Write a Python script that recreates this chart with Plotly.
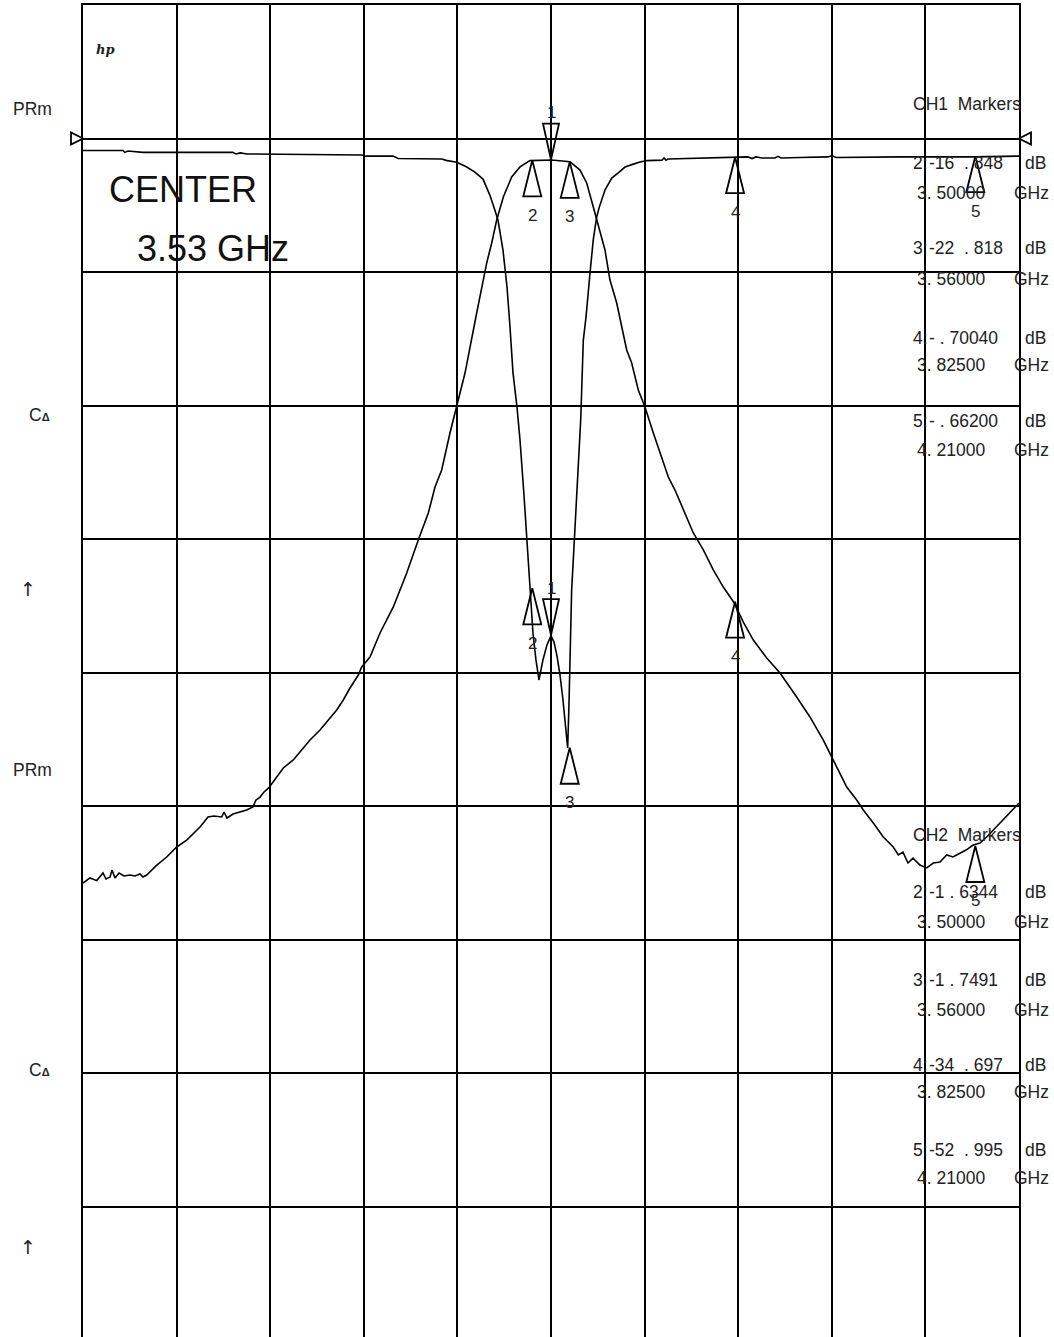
import plotly.graph_objects as go

# ---------------- data ----------------
# sweep: 2.78 .. 4.28 GHz (center 3.53 GHz, 150 MHz / div)
start_ghz = 2.78
stop_ghz = 4.28
center_ghz = 3.53
freq_per_div = 0.15

# CH1 : 5 dB/div, reference 0 dB
ch1_ref_db = 0.0
ch1_db_per_div = 5.0
# CH2 : 10 dB/div, reference 0 dB
ch2_ref_db = 0.0
ch2_db_per_div = 10.0

ch1_freq = [2.78, 2.844, 2.847, 2.852, 2.876, 3.020, 3.025, 3.032, 3.043, 3.176, 3.227, 3.232,
            3.277, 3.285, 3.355, 3.362, 3.379, 3.395, 3.408, 3.421, 3.432, 3.440, 3.445, 3.453,
            3.4595, 3.4643, 3.4691, 3.4755, 3.4803, 3.4867, 3.4911, 3.4963, 3.5011, 3.5059, 3.5107,
            3.5171, 3.5235, 3.530, 3.5348, 3.5396, 3.5444, 3.5492, 3.5532, 3.5567, 3.5588, 3.5612,
            3.5631, 3.5657, 3.5712, 3.5776, 3.5818, 3.5861, 3.5925, 3.5978, 3.6032, 3.6074, 3.6165,
            3.6273, 3.6378, 3.6486, 3.6619, 3.6726, 3.6833, 3.7079, 3.7111, 3.7143, 3.7175, 3.8249,
            3.8458, 3.8522, 3.8585, 3.8681, 3.8890, 3.8938, 3.8986, 3.9290, 3.9739, 3.9803, 3.9867,
            4.0893, 4.2095, 4.28]
ch1_db = [-0.45, -0.45, -0.52, -0.47, -0.52, -0.52, -0.58, -0.54, -0.58, -0.62, -0.62, -0.66,
          -0.66, -0.75, -0.77, -0.82, -0.89, -1.07, -1.26, -1.52, -2.12, -2.68, -3.05, -4.17,
          -5.56, -7.06, -8.78, -10.06, -11.29, -13.35, -14.96, -16.84, -18.52, -19.53, -20.28,
          -19.53, -18.97, -18.63, -18.86, -19.38, -20.09, -21.03, -21.97, -22.83, -21.22, -18.78,
          -16.91, -15.79, -13.54, -10.54, -7.55, -6.69, -5.04, -3.78, -2.94, -2.57, -1.93,
          -1.48, -1.29, -1.07, -0.96, -0.88, -0.83, -0.81, -0.73, -0.81, -0.77, -0.71,
          -0.69, -0.75, -0.69, -0.73, -0.73, -0.67, -0.73, -0.71, -0.69, -0.64, -0.71,
          -0.69, -0.69, -0.66]

ch2_freq = [2.78, 2.7859, 2.7912, 2.802, 2.8121, 2.8169, 2.8233, 2.8265, 2.8313, 2.8377, 2.8457,
            2.8553, 2.8633, 2.8713, 2.8762, 2.8821, 2.897, 2.9141, 2.9302, 2.9462, 2.9563, 2.9675,
            2.974, 2.9803, 2.9899, 3.0023, 3.006, 3.0108, 3.0204, 3.0316, 3.0423, 3.0524, 3.0572,
            3.0637, 3.0701, 3.0776, 3.0904, 3.101, 3.117, 3.1278, 3.1438, 3.1598, 3.1758, 3.1866,
            3.1971, 3.2079, 3.2212, 3.2266, 3.2399, 3.256, 3.2773, 3.2988, 3.3173, 3.3334, 3.3441,
            3.3548, 3.3681, 3.3789, 3.3922, 3.4109, 3.4269, 3.435, 3.443, 3.4536, 3.467, 3.4803,
            3.4963, 3.5311, 3.5604, 3.5765, 3.5872, 3.5978, 3.6085, 3.6165, 3.6245, 3.6353, 3.6513,
            3.6593, 3.6699, 3.6806, 3.694, 3.6994, 3.718, 3.7287, 3.742, 3.7581, 3.7741, 3.7901,
            3.8061, 3.8237, 3.8382, 3.8542, 3.8757, 3.897, 3.9237, 3.945, 3.9664, 3.9824, 4.0039,
            4.0199, 4.0305, 4.0465, 4.0625, 4.0785, 4.0866, 4.0941, 4.1021, 4.1101, 4.1213, 4.1321,
            4.1427, 4.1534, 4.1641, 4.1742, 4.1854, 4.1951, 4.2067, 4.2175, 4.2282, 4.2388, 4.2495,
            4.2603, 4.2708, 4.28]
ch2_db = [-55.77, -55.54, -55.39, -55.59, -55.02, -55.47, -55.32, -54.79, -55.39, -55.02, -55.24,
          -55.17, -55.24, -55.09, -55.32, -55.17, -54.49, -53.82, -53.07, -52.55, -52.10, -51.57,
          -51.20, -50.82, -50.75, -50.82, -50.45, -50.90, -50.60, -50.45, -50.30, -50.07, -49.55,
          -49.33, -48.95, -48.65, -47.83, -47.15, -46.55, -45.96, -45.06, -44.31, -43.41, -42.81,
          -42.06, -41.16, -40.19, -39.59, -38.84, -37.04, -35.09, -32.55, -30.08, -28.05, -26.10,
          -24.83, -22.06, -20.11, -17.57, -13.07, -9.33, -7.83, -6.11, -4.38, -2.88, -2.13,
          -1.66, -1.61, -1.74, -2.36, -3.33, -5.13, -7.08, -8.35, -10.60, -12.32, -15.84,
          -16.82, -18.84, -20.11, -22.06, -22.81, -25.36, -26.33, -27.83, -29.55, -30.82, -32.32,
          -33.60, -34.79, -36.22, -37.57, -38.91, -40.04, -41.84, -43.33, -45.06, -46.55, -48.58,
          -49.55, -50.30, -51.27, -52.32, -53.07, -53.67, -53.45, -54.27, -53.90, -54.42, -54.64,
          -54.27, -54.19, -53.67, -53.82, -53.52, -53.30, -52.92, -52.77, -52.32, -51.80, -51.27,
          -50.82, -50.30, -49.78]

marker_ids = ["1", "2", "3", "4", "5"]
marker_freq = [3.53, 3.50, 3.56, 3.825, 4.21]
ch1_marker_db = [-18.6, -16.848, -22.818, -0.7004, -0.662]
ch2_marker_db = [-1.58, -1.6344, -1.7491, -34.697, -52.995]

# marker readouts as printed by the analyzer
readout_ids = ["2:", "3:", "4:", "5:"]
ch1_readout_db = ["-16\u00a0\u00a0.\u00a0848", "-22\u00a0\u00a0.\u00a0818", "-\u00a0.\u00a070040", "-\u00a0.\u00a066200"]
ch2_readout_db = ["-1\u00a0.\u00a06344", "-1\u00a0.\u00a07491", "-34\u00a0\u00a0.\u00a0697", "-52\u00a0\u00a0.\u00a0995"]
readout_freq = ["3.\u00a050000", "3.\u00a056000", "3.\u00a082500", "4.\u00a021000"]

center_text = ["CENTER", "3.53 GHz"]

# ---------------- layout helpers ----------------
W, H = 1054, 1337
L, R, T, B = 83, 35, 5, 0
PW, PH = W - L - R, H - T - B
px_per_div_y = 133.5


def px(xp):
    return (xp - L) / PW


def py(yp):
    return 1 - (yp - T) / PH


ch1_top = ch1_ref_db + ch1_db_per_div
ch1_bottom = ch1_top - PH / px_per_div_y * ch1_db_per_div
ch2_top = ch2_ref_db + ch2_db_per_div
ch2_bottom = ch2_top - PH / px_per_div_y * ch2_db_per_div

FONT = "Liberation Sans, Arial, sans-serif"
INK = "black"

fig = go.Figure()
fig.add_trace(go.Scatter(x=ch1_freq, y=ch1_db, mode="lines", yaxis="y",
                         line=dict(color=INK, width=1.6), hoverinfo="skip", showlegend=False))
fig.add_trace(go.Scatter(x=ch2_freq, y=ch2_db, mode="lines", yaxis="y2",
                         line=dict(color=INK, width=1.6), hoverinfo="skip", showlegend=False))

shapes = []
annotations = []

UP = "M0,0 L-9,-36 L9,-36 Z"
DOWN = "M0,0 L-8,36 L8,36 Z"
for yref, vals in (("y", ch1_marker_db), ("y2", ch2_marker_db)):
    for mid, f, v in zip(marker_ids, marker_freq, vals):
        first = mid == "1"
        shapes.append(dict(type="path", xref="x", yref=yref, xsizemode="pixel", ysizemode="pixel",
                           xanchor=f, yanchor=v, path=DOWN if first else UP,
                           line=dict(color=INK, width=1.8), fillcolor="rgba(0,0,0,0)", layer="above"))
        annotations.append(dict(x=f, y=v, xref="x", yref=yref, text=mid, showarrow=False,
                                yshift=47 if first else -55, font=dict(family=FONT, size=17, color="#222")))

# reference-line pointers
ref_y = py(138.5)
shapes.append(dict(type="path", xref="paper", yref="paper", xsizemode="pixel", ysizemode="pixel",
                   xanchor=0, yanchor=ref_y, path="M0,0 L-12,6 L-12,-6 Z",
                   line=dict(color=INK, width=1.8), fillcolor="white"))
shapes.append(dict(type="path", xref="paper", yref="paper", xsizemode="pixel", ysizemode="pixel",
                   xanchor=1, yanchor=ref_y, path="M0,0 L12,6 L12,-6 Z",
                   line=dict(color=INK, width=1.8), fillcolor="white"))


def text(x, y, s, size=17.5, anchor="left", color="#222", family=FONT):
    annotations.append(dict(x=px(x), y=py(y), xref="paper", yref="paper", text=s, showarrow=False,
                            xanchor=anchor, yanchor="middle", font=dict(family=family, size=size, color=color)))


# left side channel labels
for y0 in (109, 770):
    text(11, y0, "PRm")
for y0 in (415, 1070):
    text(27, y0, "C<b><span style='font-size:11px'>\u0394</span></b>")
for y0 in (589, 1247):
    text(28, y0, "\u2191", anchor="center", size=19, family="DejaVu Sans, sans-serif")

# hp logo
text(94, 50, "<b><i>hp</i></b>", size=13, family="DejaVu Serif, serif")

# center frequency
text(107, 190, center_text[0], size=36, color="#111")
text(135, 248, center_text[1], size=36, color="#111")

# marker readouts
blocks = [(104, "CH1\u00a0\u00a0Markers", ch1_readout_db, [163, 248, 338, 421], [193, 279, 365, 450]),
          (835, "CH2\u00a0\u00a0Markers", ch2_readout_db, [892, 980, 1065, 1150], [922, 1010, 1092, 1178])]
for title_y, title, vals, ydb, yghz in blocks:
    text(911, title_y, title)
    for rid, val, yd, fq, yg in zip(readout_ids, vals, ydb, readout_freq, yghz):
        text(911, yd, rid)
        text(927, yd, val)
        text(1023, yd, "dB")
        text(915, yg, fq)
        text(1012, yg, "GHz")

fig.update_layout(
    width=W, height=H,
    margin=dict(l=L, r=R, t=T, b=B, pad=0),
    paper_bgcolor="white", plot_bgcolor="white",
    showlegend=False,
    xaxis=dict(range=[start_ghz, stop_ghz], tick0=start_ghz, dtick=freq_per_div,
               showgrid=True, gridcolor=INK, gridwidth=2, showticklabels=False, ticks="",
               zeroline=False, showline=True, linecolor=INK, linewidth=2, side="top", mirror=False),
    yaxis=dict(range=[ch1_bottom, ch1_top], tick0=ch1_ref_db, dtick=ch1_db_per_div,
               showgrid=True, gridcolor=INK, gridwidth=2, showticklabels=False, ticks="",
               zeroline=False, showline=True, linecolor=INK, linewidth=2, mirror=True),
    yaxis2=dict(range=[ch2_bottom, ch2_top], overlaying="y", visible=False, showgrid=False),
    shapes=shapes,
    annotations=annotations,
)

fig.write_html("out.html", config={"displayModeBar": False},
               post_script="document.body.style.margin='0';document.body.style.overflow='hidden';")
